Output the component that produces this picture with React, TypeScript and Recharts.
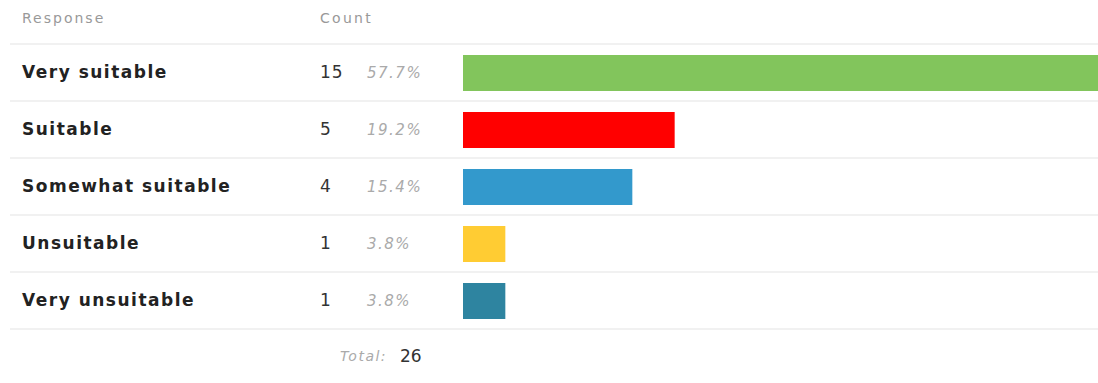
import React from 'react';
import { BarChart, Bar, XAxis, YAxis, Cell } from 'recharts';

const responses = ['Very suitable', 'Suitable', 'Somewhat suitable', 'Unsuitable', 'Very unsuitable'];
const counts = [15, 5, 4, 1, 1];
const percents = ['57.7%', '19.2%', '15.4%', '3.8%', '3.8%'];
const colors = ['#82c55c', '#ff0000', '#3399cc', '#ffcc33', '#2e84a0'];
const total = 26;

const data = responses.map((r, i) => ({ response: r, count: counts[i], pct: percents[i] }));

const FONT = '"DejaVu Sans", sans-serif';
const ROW_H = 57;

function RowTick(props: any) {
  const { y, payload, index } = props;
  const row = data[index];
  return (
    <g>
      <line x1={10} x2={1098} y1={y - ROW_H / 2} y2={y - ROW_H / 2} stroke="#ececec" strokeWidth={1.5} />
      {index === data.length - 1 && (
        <line x1={10} x2={1098} y1={y + ROW_H / 2} y2={y + ROW_H / 2} stroke="#ececec" strokeWidth={1.5} />
      )}
      <text x={22} y={y} dy="0.35em" fontSize={17} fontWeight="bold" fill="#222" fontFamily={FONT} letterSpacing={1.5}>
        {payload.value}
      </text>
      <text x={320} y={y} dy="0.35em" fontSize={17} fill="#333" fontFamily={FONT} letterSpacing={1}>
        {row.count}
      </text>
      <text x={367} y={y} dy="0.35em" fontSize={15} fontStyle="italic" fill="#aaa" fontFamily={FONT} letterSpacing={1.5}>
        {row.pct}
      </text>
    </g>
  );
}

export default function App() {
  return (
    <div style={{ position: 'absolute', left: 0, top: 0, width: 1098, height: 383, background: '#fff' }}>
      <BarChart
        width={1098}
        height={383}
        layout="vertical"
        data={data}
        margin={{ top: 44, right: 0, bottom: 54, left: 0 }}
        barSize={36}
      >
        <XAxis type="number" domain={[0, 15]} hide />
        <YAxis
          type="category"
          dataKey="response"
          width={463}
          axisLine={false}
          tickLine={false}
          tick={<RowTick />}
          interval={0}
        />
        <Bar dataKey="count" isAnimationActive={false}>
          {data.map((d, i) => (
            <Cell key={d.response} fill={colors[i]} />
          ))}
        </Bar>
        <text x={22} y={18} dy="0.35em" fontSize={14} fill="#999" fontFamily={FONT} letterSpacing={2}>
          Response
        </text>
        <text x={320} y={18} dy="0.35em" fontSize={14} fill="#999" fontFamily={FONT} letterSpacing={2.3}>
          Count
        </text>
        <text x={340} y={356} dy="0.35em" fontSize={14} fontStyle="italic" fill="#aaa" fontFamily={FONT} letterSpacing={1.5}>
          Total:
        </text>
        <text x={400} y={356} dy="0.35em" fontSize={17} fill="#333" fontFamily={FONT}>
          {total}
        </text>
      </BarChart>
    </div>
  );
}
